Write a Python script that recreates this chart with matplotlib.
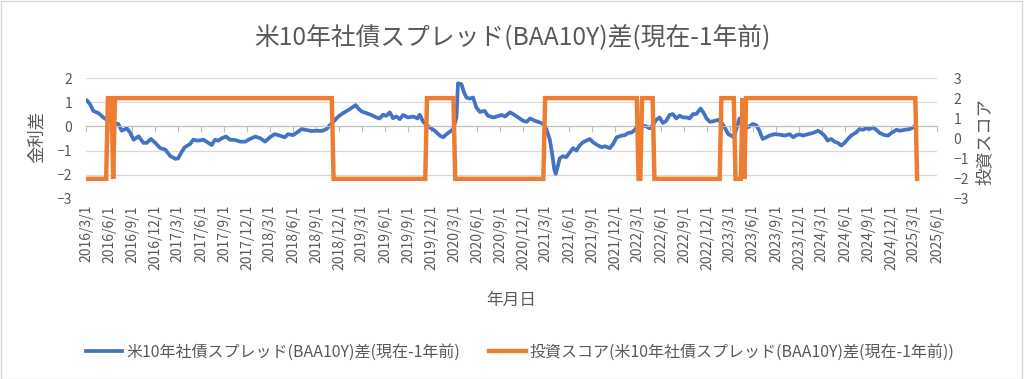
import pandas as pd
import matplotlib.pyplot as plt
from matplotlib.patches import Rectangle
from matplotlib.lines import Line2D

plt.rcParams['font.family'] = ['Noto Sans CJK JP', 'DejaVu Sans']

title = '米10年社債スプレッド(BAA10Y)差(現在-1年前)'
label_spread = '米10年社債スプレッド(BAA10Y)差(現在-1年前)'
label_score = '投資スコア(米10年社債スプレッド(BAA10Y)差(現在-1年前))'

# 金利差 (left axis)
spread_dates = [
    '2016-03-04', '2016-03-17', '2016-03-30', '2016-04-19', '2016-05-09', '2016-05-29',
    '2016-06-18', '2016-07-07', '2016-07-21', '2016-08-10', '2016-08-23', '2016-09-06',
    '2016-09-26', '2016-10-15', '2016-10-28', '2016-11-14', '2016-12-01', '2016-12-21',
    '2017-01-10', '2017-01-30', '2017-02-19', '2017-03-02', '2017-03-15', '2017-03-28',
    '2017-04-18', '2017-05-01', '2017-05-20', '2017-06-10', '2017-06-30', '2017-07-13',
    '2017-07-26', '2017-08-08', '2017-08-22', '2017-09-08', '2017-09-24', '2017-10-14',
    '2017-11-03', '2017-11-23', '2017-12-12', '2018-01-02', '2018-01-22', '2018-02-10',
    '2018-03-01', '2018-03-20', '2018-04-09', '2018-04-29', '2018-05-12', '2018-06-02',
    '2018-06-21', '2018-07-05', '2018-07-25', '2018-08-14', '2018-09-03', '2018-09-23',
    '2018-10-12', '2018-10-25', '2018-11-08', '2018-11-28', '2018-12-17', '2019-01-07',
    '2019-01-27', '2019-02-05', '2019-02-15', '2019-02-28', '2019-03-19', '2019-04-08',
    '2019-04-28', '2019-05-11', '2019-05-24', '2019-06-07', '2019-06-20', '2019-07-03',
    '2019-07-16', '2019-07-30', '2019-08-12', '2019-09-01', '2019-09-21', '2019-10-08',
    '2019-10-17', '2019-10-31', '2019-11-13', '2019-11-26', '2019-12-16', '2020-01-05',
    '2020-01-18', '2020-02-01', '2020-02-14', '2020-02-27', '2020-03-11', '2020-03-17',
    '2020-03-31', '2020-04-10', '2020-04-20', '2020-05-03', '2020-05-16', '2020-05-29',
    '2020-06-12', '2020-07-01', '2020-07-14', '2020-08-04', '2020-08-17', '2020-09-07',
    '2020-09-20', '2020-10-09', '2020-10-22', '2020-11-11', '2020-12-01', '2020-12-15',
    '2020-12-28', '2021-01-17', '2021-02-06', '2021-02-19', '2021-03-03', '2021-03-16',
    '2021-03-25', '2021-04-03', '2021-04-09', '2021-04-18', '2021-04-25', '2021-05-08',
    '2021-05-21', '2021-06-04', '2021-06-17', '2021-06-30', '2021-07-13', '2021-07-26',
    '2021-08-09', '2021-08-22', '2021-09-05', '2021-09-21', '2021-10-08', '2021-10-21',
    '2021-11-10', '2021-11-23', '2021-12-07', '2021-12-27', '2022-01-09', '2022-01-22',
    '2022-02-05', '2022-02-18', '2022-02-25', '2022-03-08', '2022-04-04', '2022-04-17',
    '2022-04-30', '2022-05-13', '2022-05-26', '2022-06-09', '2022-06-22', '2022-07-05',
    '2022-07-18', '2022-08-01', '2022-08-14', '2022-08-27', '2022-09-10', '2022-09-23',
    '2022-10-06', '2022-10-19', '2022-11-05', '2022-11-16', '2022-11-29', '2022-12-12',
    '2022-12-25', '2023-01-14', '2023-01-27', '2023-02-10', '2023-02-23', '2023-03-07',
    '2023-03-17', '2023-04-09', '2023-04-22', '2023-05-12', '2023-06-01', '2023-06-14',
    '2023-06-27', '2023-07-10', '2023-07-24', '2023-08-06', '2023-08-26', '2023-09-15',
    '2023-10-05', '2023-10-25', '2023-11-08', '2023-11-21', '2023-12-04', '2023-12-17',
    '2024-01-06', '2024-01-26', '2024-02-15', '2024-02-28', '2024-03-11', '2024-03-24',
    '2024-04-07', '2024-04-20', '2024-05-03', '2024-05-17', '2024-05-30', '2024-06-12',
    '2024-06-25', '2024-07-15', '2024-07-28', '2024-08-10', '2024-08-24', '2024-09-07',
    '2024-09-20', '2024-10-03', '2024-10-16', '2024-11-05', '2024-11-18', '2024-12-02',
    '2024-12-22', '2025-01-04', '2025-01-24', '2025-02-13', '2025-02-26', '2025-03-10',
]
spread_diff = [
    1.08, 0.92, 0.64, 0.55, 0.37, 0.23,
    0.14, 0.10, -0.18, -0.08, -0.25, -0.55,
    -0.41, -0.68, -0.68, -0.52, -0.68, -0.90,
    -0.96, -1.23, -1.34, -1.32, -1.07, -0.86,
    -0.73, -0.55, -0.59, -0.55, -0.68, -0.77,
    -0.55, -0.59, -0.49, -0.42, -0.55, -0.56,
    -0.63, -0.63, -0.52, -0.42, -0.49, -0.63,
    -0.45, -0.32, -0.38, -0.45, -0.32, -0.36,
    -0.22, -0.11, -0.15, -0.19, -0.18, -0.19,
    -0.11, 0.05, 0.19, 0.41, 0.55, 0.68,
    0.82, 0.88, 0.74, 0.62, 0.55, 0.47,
    0.37, 0.33, 0.48, 0.44, 0.58, 0.34,
    0.41, 0.30, 0.47, 0.37, 0.41, 0.33,
    0.48, 0.19, 0.05, -0.04, -0.18, -0.38,
    -0.45, -0.32, -0.22, -0.11, 0.37, 1.78,
    1.74, 1.40, 1.19, 1.15, 1.19, 0.78,
    0.60, 0.64, 0.44, 0.37, 0.41, 0.47,
    0.41, 0.58, 0.51, 0.37, 0.23, 0.19,
    0.33, 0.23, 0.16, 0.10, -0.11, -0.52,
    -1.07, -1.75, -1.96, -1.62, -1.32, -1.23,
    -1.27, -1.07, -0.90, -1.00, -0.79, -0.66,
    -0.59, -0.52, -0.66, -0.77, -0.86, -0.82,
    -0.90, -0.73, -0.45, -0.38, -0.36, -0.27,
    -0.25, -0.14, 0.00, 0.05, 0.00, -0.08,
    0.05, 0.27, 0.37, 0.14, 0.23, 0.47,
    0.51, 0.33, 0.44, 0.37, 0.37, 0.33,
    0.51, 0.51, 0.74, 0.58, 0.33, 0.19,
    0.21, 0.27, 0.16, -0.06, -0.32, -0.38,
    -0.45, 0.33, 0.16, -0.04, 0.10, 0.05,
    -0.18, -0.52, -0.45, -0.38, -0.32, -0.34,
    -0.38, -0.32, -0.45, -0.36, -0.33, -0.38,
    -0.32, -0.27, -0.18, -0.27, -0.38, -0.59,
    -0.52, -0.63, -0.68, -0.79, -0.68, -0.52,
    -0.38, -0.25, -0.11, -0.14, -0.08, -0.11,
    -0.04, -0.14, -0.27, -0.36, -0.38, -0.27,
    -0.14, -0.18, -0.14, -0.11, -0.04, 0.05,
]

# 投資スコア (right axis)
score_dates = [
    '2016-03-04', '2016-05-20', '2016-05-27', '2016-06-10', '2016-06-17', '2016-06-24',
    '2018-11-02', '2018-11-09', '2019-11-08', '2019-11-15', '2020-02-28', '2020-03-06',
    '2021-02-19', '2021-02-26', '2022-02-25', '2022-03-04', '2022-03-11', '2022-03-18',
    '2022-04-29', '2022-05-06', '2023-01-20', '2023-01-27', '2023-03-17', '2023-03-24',
    '2023-04-14', '2023-04-21', '2023-04-28', '2023-05-05', '2025-03-07', '2025-03-14',
]
score_values = [
    -2, -2, 2, 2, -2, 2,
    2, -2, -2, 2, 2, -2,
    -2, 2, 2, -2, -2, 2,
    2, -2, -2, 2, 2, -2,
    -2, 2, -2, 2, 2, -2,
]

tick_dates = pd.date_range('2016-03-01', '2025-06-01', freq='3MS')
tick_labels = [f'{d.year}/{d.month}/{d.day}' for d in tick_dates]

text_color = '#595959'
grid_color = '#D9D9D9'

fig = plt.figure(figsize=(10.24, 3.79), dpi=100)
ax = fig.add_axes([86 / 1024, 1 - 199 / 379, (937 - 86) / 1024, (199 - 78) / 379])
ax2 = ax.twinx()

ax.plot(pd.to_datetime(spread_dates), spread_diff, color='#4472C4', lw=2.7,
        solid_joinstyle='round', solid_capstyle='round')
ax2.plot(pd.to_datetime(score_dates), score_values, color='#ED7D31', lw=3.2,
         solid_joinstyle='miter')

ax.set_xlim(pd.Timestamp('2016-03-01'), pd.Timestamp('2025-06-01'))
ax.set_ylim(-3, 2)
ax2.set_ylim(-3, 3)
ax.set_yticks(range(-3, 3))
ax2.set_yticks(range(-3, 4))

ax.grid(axis='y', color=grid_color, lw=0.9)
ax.set_axisbelow(True)
for s in ['top', 'right', 'left']:
    ax.spines[s].set_visible(False)
for s in ['top', 'right', 'left', 'bottom']:
    ax2.spines[s].set_visible(False)
ax.spines['bottom'].set_position(('data', 0))
ax.spines['bottom'].set_color('#BFBFBF')
ax.set_xticks(tick_dates)
ax.tick_params(axis='x', direction='out', length=4, color='#BFBFBF', labelbottom=False)
ax.tick_params(axis='y', length=0, labelsize=10, labelcolor=text_color, pad=10)
ax2.tick_params(axis='y', length=0, labelsize=10, labelcolor=text_color, pad=12)

for d, lab in zip(tick_dates, tick_labels):
    ax.text(d, -0.05, lab, transform=ax.get_xaxis_transform(), rotation=90,
            ha='center', va='top', fontsize=10, color=text_color)

fig.text(0.5, 1 - 37 / 379, title, ha='center', va='center', fontsize=17.8, color=text_color)
fig.text(37 / 1024, 1 - 137 / 379, '金利差', rotation=90, ha='center', va='center',
         fontsize=12.5, color=text_color)
fig.text(985 / 1024, 1 - 142 / 379, '投資スコア', rotation=90, ha='center', va='center',
         fontsize=12.5, color=text_color)
fig.text(511 / 1024, 1 - 300 / 379, '年月日', ha='center', va='center',
         fontsize=12, color=text_color)

handles = [Line2D([], [], color='#4472C4', lw=2.7),
           Line2D([], [], color='#ED7D31', lw=3.2)]
fig.legend(handles, [label_spread, label_score], loc='center',
           bbox_to_anchor=(520 / 1024, 1 - 352 / 379), ncol=2, frameon=False,
           fontsize=11.5, handlelength=2.3, handletextpad=0.25, columnspacing=1.8,
           labelcolor=text_color)

fig.patches.append(Rectangle((0.0005, 0.001), 0.998, 0.997, transform=fig.transFigure,
                             fill=False, edgecolor='#D9D9D9', lw=1))

fig.savefig('out.png', dpi=100)
